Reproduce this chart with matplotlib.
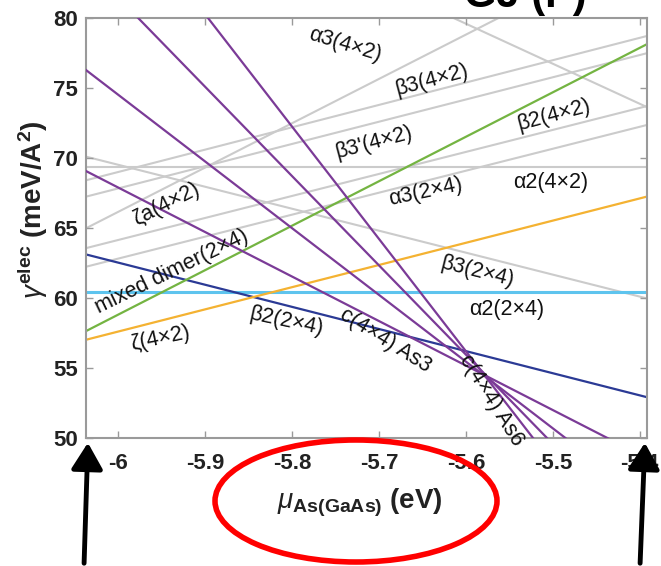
import matplotlib
matplotlib.use("Agg")
from matplotlib import pyplot as plt
from matplotlib.patches import Ellipse, FancyArrowPatch

plt.rcParams['font.family'] = ['Liberation Sans', 'DejaVu Sans']
plt.rcParams['mathtext.fontset'] = 'custom'
plt.rcParams['mathtext.rm'] = 'Liberation Sans:bold'
plt.rcParams['mathtext.bf'] = 'Liberation Sans:bold'
plt.rcParams['mathtext.it'] = 'Liberation Sans:italic'

# chemical potential window (eV) and surface energies at its two ends (meV/A^2)
mu_range = [-6.037, -5.392]

gray_lines = [
    (92.1, 73.64),   # a3(4x2)
    (64.97, 85.4),   # za(4x2)
    (68.4, 78.71),   # b3(4x2)
    (67.23, 77.48),  # b3'(4x2)
    (63.55, 73.7),   # b2(4x2)
    (62.22, 72.35),  # a3(2x4)
    (69.37, 69.37),  # a2(4x2)
    (70.09, 59.96),  # b3(2x4)
]
alpha2_2x4 = (60.42, 60.42)
beta2_2x4 = (63.1, 52.9)
zeta_4x2 = (57.0, 67.23)
mixed_dimer = (57.62, 78.12)
c4x4_lines = [(91.27, 39.48), (83.83, 42.66), (76.28, 45.52), (69.06, 48.54)]

labels = ["α3(4×2)", "β3(4×2)", "β2(4×2)", "β3'(4×2)", "α2(4×2)", "α3(2×4)",
          "ζa(4×2)", "mixed dimer(2×4)", "ζ(4×2)", "β2(2×4)", "c(4×4) As3",
          "c(4×4) As6", "β3(2×4)", "α2(2×4)"]
label_x = [-5.739, -5.639, -5.499, -5.706, -5.502, -5.646, -5.945, -5.938,
           -5.951, -5.807, -5.693, -5.571, -5.587, -5.553]
label_y = [78.06, 75.56, 73.07, 71.06, 68.27, 67.55, 66.69, 61.84,
           57.12, 58.27, 56.98, 52.70, 61.83, 59.19]
label_rot = [-17, 15, 15, 15, 0, 12, 27, 26, 12, -12, -32, -58, -14, 0]

xticks = [-6, -5.9, -5.8, -5.7, -5.6, -5.5, -5.4]
xticklabels = ["-6", "-5.9", "-5.8", "-5.7", "-5.6", "-5.5", "-5.4"]
yticks = [50, 55, 60, 65, 70, 75, 80]

fig = plt.figure(figsize=(6.61, 5.66), dpi=100)
ax = fig.add_axes([86 / 661, 1 - 437.7 / 566, 560.7 / 661, 419.7 / 566])

for g in gray_lines:
    ax.plot(mu_range, g, color="#cbcbcb", lw=1.5, zorder=1)
ax.plot(mu_range, alpha2_2x4, color="#5ec4ee", lw=2.2, zorder=2)
ax.plot(mu_range, beta2_2x4, color="#2b3a95", lw=1.6, zorder=2)
ax.plot(mu_range, zeta_4x2, color="#f4b232", lw=1.6, zorder=2)
ax.plot(mu_range, mixed_dimer, color="#74b442", lw=1.6, zorder=2)
for c in c4x4_lines:
    ax.plot(mu_range, c, color="#7b3b97", lw=1.6, zorder=3)

for t, x, y, r in zip(labels, label_x, label_y, label_rot):
    ax.text(x, y, t, fontsize=15.5, rotation=r, ha="center", va="center",
            rotation_mode="anchor", color="#111111", zorder=4)

ax.set_xlim(mu_range)
ax.set_ylim(50, 80)
ax.set_xticks(xticks)
ax.set_xticklabels(xticklabels)
ax.set_yticks(yticks)
for s in ax.spines.values():
    s.set_color("#9a9a9a")
    s.set_linewidth(1.5)
ax.tick_params(direction="in", top=True, right=True, length=5, width=1,
               color="#9a9a9a", labelcolor="#222222", labelsize=16)
ax.tick_params(axis="x", pad=11)
ax.tick_params(axis="y", pad=6)
for lab in ax.get_xticklabels() + ax.get_yticklabels():
    lab.set_fontweight("bold")

fig.text(33 / 661, 1 - 210 / 566,
         r"$\mathit{\gamma}^{\mathbf{elec}}$ (meV/A$^{\mathbf{2}}$)",
         rotation=90, ha="center", va="center", fontsize=20,
         fontweight="bold", color="#222222")
fig.text(360 / 661, 1 - 503 / 566, r"$\mathit{\mu}_{\mathbf{As(GaAs)}}$ (eV)",
         ha="center", va="center", fontsize=20, fontweight="bold", color="#222222")

# title running off the top edge
fig.text(525 / 661, 1 + 4 / 566, "GJ (P)", ha="center", va="center",
         fontsize=30, fontweight="bold", color="black")

# red ring round the x label and the two arrows marking the window ends
fig.patches.append(Ellipse((356 / 661, 1 - 501 / 566), 282 / 661, 122 / 566,
                           transform=fig.transFigure, fill=False,
                           edgecolor="red", lw=4))
for x0, x1 in [(84, 88), (640, 645)]:
    fig.patches.append(FancyArrowPatch(
        (x0 / 661, 0.0), (x1 / 661, 1 - 440 / 566), transform=fig.transFigure,
        arrowstyle="-|>,head_length=10,head_width=6", mutation_scale=1.6,
        color="black", lw=3.5))

fig.savefig("out.png", dpi=100)
